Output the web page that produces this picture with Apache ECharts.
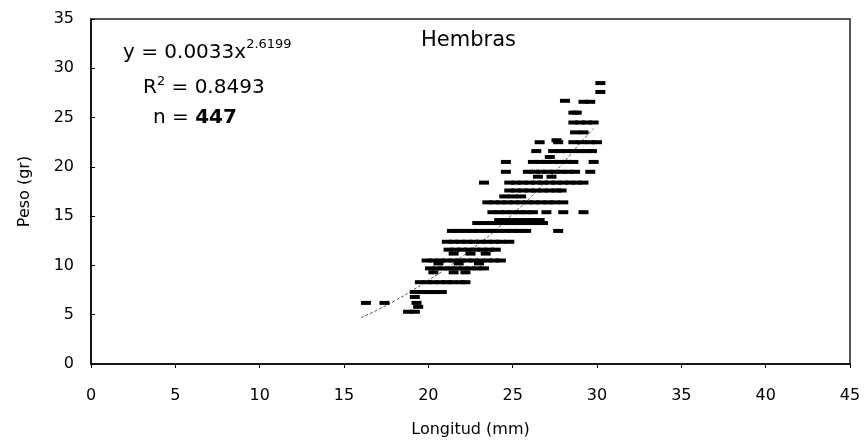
<!DOCTYPE html>
<html>
<head>
<meta charset="utf-8">
<script src="https://cdn.jsdelivr.net/npm/echarts@6/dist/echarts.min.js"></script>
<style>
html,body{margin:0;padding:0;background:#fff;}
#chart{width:867px;height:446px;}
</style>
</head>
<body>
<div id="chart"></div>
<script>
// Weight rows (gr) and the lengths (mm) of the dashes read on each row
const rowWeight = [28.5, 27.6, 26.7, 26.6, 25.5, 24.5, 23.5, 22.7, 22.5, 21.6, 21.0, 20.5, 19.5, 19.0, 18.4, 17.6, 17.0, 16.4, 15.4, 14.6, 14.3, 13.5, 12.4, 11.6, 11.2, 10.5, 10.2, 9.7, 9.3, 8.3, 7.3, 6.8, 6.2, 5.8, 5.3];
const rowLengths = [
  [30.2],
  [30.2],
  [28.1],
  [29.2, 29.6],
  [28.6, 28.8],
  [28.6, 29.0, 29.4, 29.8],
  [28.7, 29.2],
  [27.6],
  [26.6, 27.7, 28.6, 29.1, 29.6, 30.0],
  [26.4, 27.4, 27.8, 28.2, 28.6, 29.0, 29.4, 29.7],
  [27.2],
  [24.6, 26.2, 26.6, 27.0, 27.4, 27.8, 28.2, 28.6, 29.8],
  [24.6, 25.9, 26.3, 26.7, 27.1, 27.5, 27.9, 28.3, 28.7, 29.6],
  [26.5, 27.3],
  [23.3, 24.8, 25.2, 25.6, 26.0, 26.4, 26.8, 27.2, 27.6, 28.0, 28.4, 28.8, 29.2],
  [24.8, 25.2, 25.6, 26.0, 26.4, 26.8, 27.2, 27.6, 27.9],
  [24.5, 25.0, 25.5],
  [23.5, 23.9, 24.3, 24.7, 25.1, 25.5, 25.9, 26.3, 26.7, 27.1, 27.5, 28.0],
  [23.8, 24.2, 24.6, 25.0, 25.4, 25.8, 26.2, 27.0, 28.0, 29.2],
  [24.2, 24.6, 25.0, 25.4, 25.8, 26.2, 26.6],
  [22.9, 23.3, 23.7, 24.1, 24.5, 24.9, 25.3, 25.7, 26.1, 26.5, 26.8],
  [21.4, 21.8, 22.2, 22.6, 23.0, 23.4, 23.8, 24.2, 24.6, 25.0, 25.4, 25.8, 27.7],
  [21.1, 21.5, 21.9, 22.3, 22.7, 23.1, 23.5, 23.9, 24.3, 24.8],
  [21.2, 21.6, 22.0, 22.4, 22.8, 23.2, 23.6, 24.0],
  [21.5, 22.5, 23.4],
  [19.9, 20.3, 20.7, 21.1, 21.5, 21.9, 22.3, 22.7, 23.1, 23.5, 23.9, 24.3],
  [20.6, 21.8, 23.0],
  [20.1, 20.5, 20.9, 21.3, 21.7, 22.1, 22.5, 22.9, 23.3],
  [20.3, 21.5, 22.2],
  [19.5, 19.9, 20.3, 20.7, 21.1, 21.4, 21.9, 22.2],
  [19.2, 19.6, 20.0, 20.4, 20.8],
  [19.2],
  [16.3, 17.4, 19.3],
  [19.4],
  [18.8, 19.2]
];
// Power trend line points
const trendLength = [16, 17, 18, 19, 20, 21, 22, 23, 24, 25, 26, 27, 28, 29, 29.8];
const trendWeight = [4.7, 5.5, 6.4, 7.4, 8.5, 9.6, 10.9, 12.2, 13.6, 15.2, 16.8, 18.6, 20.4, 22.4, 23.9];
const xTicks = [0, 45, 5];
const yTicks = [0, 35, 5];

const FONT = '"DejaVu Sans", "Liberation Sans", Arial, sans-serif';

const scatterData = [];
rowWeight.forEach((w, i) => rowLengths[i].forEach(l => scatterData.push([l, w])));
const trendData = trendLength.map((l, i) => [l, trendWeight[i]]);

const chart = echarts.init(document.getElementById('chart'), null, {renderer: 'canvas'});
chart.setOption({
  backgroundColor: '#ffffff',
  animation: false,
  grid: {left: 91, right: 17, top: 19, bottom: 82, show: true, borderColor: '#222', borderWidth: 1.5},
  xAxis: {
    type: 'value', min: xTicks[0], max: xTicks[1], interval: xTicks[2],
    name: 'Longitud (mm)', nameLocation: 'middle', nameGap: 58,
    nameTextStyle: {fontFamily: FONT, fontSize: 16, color: '#000'},
    axisLine: {onZero: false, lineStyle: {color: '#000', width: 1.5}},
    axisTick: {show: true, length: 4, inside: false, lineStyle: {color: '#000'}},
    axisLabel: {margin: 24, fontFamily: FONT, fontSize: 16, color: '#000'},
    splitLine: {show: false}
  },
  yAxis: {
    type: 'value', min: yTicks[0], max: yTicks[1], interval: yTicks[2],
    name: 'Peso (gr)', nameLocation: 'middle', nameGap: 58, nameRotate: 90,
    nameTextStyle: {fontFamily: FONT, fontSize: 16, color: '#000'},
    axisLine: {onZero: false, lineStyle: {color: '#000', width: 1.5}},
    axisTick: {show: true, length: 4, inside: true, lineStyle: {color: '#000'}},
    axisLabel: {margin: 17, fontFamily: FONT, fontSize: 16, color: '#000'},
    splitLine: {show: false}
  },
  series: [
    {
      type: 'line', data: trendData, smooth: true, showSymbol: false, z: 1,
      lineStyle: {color: '#555', width: 1, type: [3, 2]}
    },
    {
      type: 'scatter', data: scatterData, symbol: 'rect', symbolSize: [10, 4], z: 2,
      itemStyle: {color: '#000', opacity: 1}
    }
  ],
  graphic: [
    {
      type: 'text', left: 421, top: 30, z: 10,
      style: {text: 'Hembras', fill: '#000', font: '21px ' + FONT}
    },
    {
      type: 'text', x: 123, y: 38.5, z: 10,
      style: {
        text: '{b|y = 0.0033x}{s|2.6199}', verticalAlign: 'top', fill: '#000',
        rich: {
          b: {fontFamily: FONT, fontSize: 20, lineHeight: 24, verticalAlign: 'bottom', fill: '#000'},
          s: {fontFamily: FONT, fontSize: 13, lineHeight: 13, verticalAlign: 'top', fill: '#000'}
        }
      }
    },
    {
      type: 'text', x: 143, y: 75.3, z: 10,
      style: {
        text: '{b|R}{s|2}{b| = 0.8493}', verticalAlign: 'top', fill: '#000',
        rich: {
          b: {fontFamily: FONT, fontSize: 20, lineHeight: 22, verticalAlign: 'bottom', fill: '#000'},
          s: {fontFamily: FONT, fontSize: 13, lineHeight: 13, verticalAlign: 'top', fill: '#000'}
        }
      }
    },
    {
      type: 'text', x: 153, y: 107.7, z: 10,
      style: {
        text: '{b|n = }{k|447}', verticalAlign: 'top', fill: '#000',
        rich: {
          b: {fontFamily: FONT, fontSize: 20, lineHeight: 20, fill: '#000'},
          k: {fontFamily: FONT, fontSize: 20, lineHeight: 20, fontWeight: 'bold', fill: '#000'}
        }
      }
    }
  ]
});
</script>
</body>
</html>
